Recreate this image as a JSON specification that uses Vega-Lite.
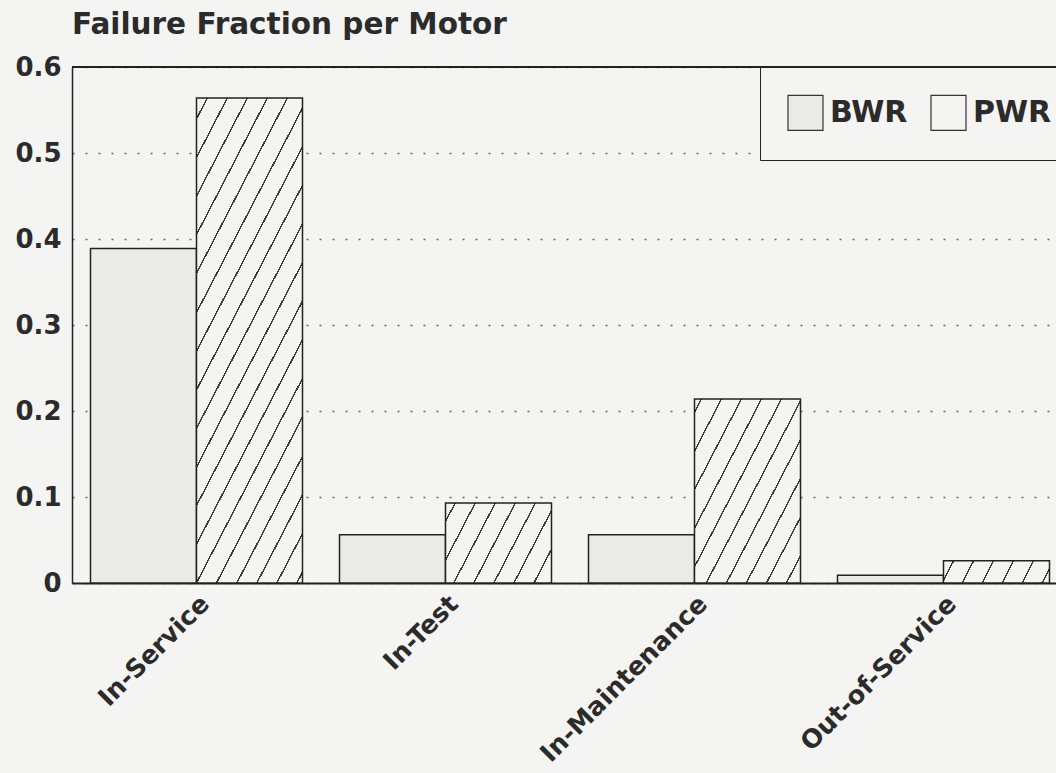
{
  "$schema": "https://vega.github.io/schema/vega-lite/v6.json",
  "width": 984,
  "height": 516,
  "autosize": {"type": "none"},
  "padding": {"left": 72, "top": 67, "right": 0, "bottom": 190},
  "background": "#f4f4f2",
  "title": {
    "text": "Failure Fraction per Motor",
    "anchor": "start",
    "frame": "group",
    "font": "DejaVu Sans",
    "fontSize": 29.5,
    "fontWeight": "bold",
    "color": "#2b2b2b",
    "baseline": "alphabetic",
    "offset": -9
  },
  "config": {
    "view": {"stroke": null},
    "axis": {"labelFont": "DejaVu Sans", "labelFontWeight": "bold", "labelColor": "#2b2b2b"}
  },
  "data": {
    "values": [
      {"state": "In-Service", "type": "BWR", "fraction": 0.389},
      {"state": "In-Service", "type": "PWR", "fraction": 0.564},
      {"state": "In-Test", "type": "BWR", "fraction": 0.056},
      {"state": "In-Test", "type": "PWR", "fraction": 0.093},
      {"state": "In-Maintenance", "type": "BWR", "fraction": 0.056},
      {"state": "In-Maintenance", "type": "PWR", "fraction": 0.214},
      {"state": "Out-of-Service", "type": "BWR", "fraction": 0.009},
      {"state": "Out-of-Service", "type": "PWR", "fraction": 0.026}
    ]
  },
  "layer": [
    {
      "mark": {"type": "bar", "stroke": "#222", "strokeWidth": 1.5},
      "encoding": {
        "x": {
          "field": "state",
          "type": "nominal",
          "sort": ["In-Service", "In-Test", "In-Maintenance", "Out-of-Service"],
          "scale": {"paddingInner": 0.1486, "paddingOuter": 0.0502, "align": 0.74},
          "axis": {
            "title": null,
            "labelAngle": -45,
            "labelFontSize": 25.5,
            "labelLimit": 0,
            "ticks": false,
            "domain": true,
            "domainColor": "#222",
            "domainWidth": 2,
            "labelPadding": 8
          }
        },
        "xOffset": {
          "field": "type",
          "type": "nominal",
          "sort": ["BWR", "PWR"],
          "scale": {"paddingInner": 0, "paddingOuter": 0}
        },
        "y": {
          "field": "fraction",
          "type": "quantitative",
          "scale": {"domain": [0, 0.6], "nice": false},
          "axis": {
            "title": null,
            "values": [0, 0.1, 0.2, 0.3, 0.4, 0.5, 0.6],
            "format": "~g",
            "labelFontSize": 26,
            "ticks": false,
            "labelPadding": 11,
            "domain": true,
            "domainColor": "#222",
            "domainWidth": 1.5,
            "grid": true,
            "gridColor": "#666",
            "gridDash": [2, 11],
            "gridWidth": 1.5
          }
        },
        "fill": {
          "field": "type",
          "type": "nominal",
          "sort": ["BWR", "PWR"],
          "scale": {"domain": ["BWR", "PWR"], "range": ["#eaeae8", "#f4f4f2"]},
          "condition": [
            {
              "test": "datum.state === 'In-Service' && datum.type === 'PWR'",
              "value": {
                "gradient": "linear", "x1": 0, "y1": 0, "x2": 0.509, "y2": 1.207,
                "stops": [
                  {"offset": 0.028, "color": "#f4f4f2"}, {"offset": 0.028, "color": "#3a3a3a"}, {"offset": 0.0325, "color": "#3a3a3a"}, {"offset": 0.0325, "color": "#f4f4f2"},
                  {"offset": 0.084, "color": "#f4f4f2"}, {"offset": 0.084, "color": "#3a3a3a"}, {"offset": 0.0885, "color": "#3a3a3a"}, {"offset": 0.0885, "color": "#f4f4f2"},
                  {"offset": 0.140, "color": "#f4f4f2"}, {"offset": 0.140, "color": "#3a3a3a"}, {"offset": 0.1445, "color": "#3a3a3a"}, {"offset": 0.1445, "color": "#f4f4f2"},
                  {"offset": 0.196, "color": "#f4f4f2"}, {"offset": 0.196, "color": "#3a3a3a"}, {"offset": 0.2005, "color": "#3a3a3a"}, {"offset": 0.2005, "color": "#f4f4f2"},
                  {"offset": 0.252, "color": "#f4f4f2"}, {"offset": 0.252, "color": "#3a3a3a"}, {"offset": 0.2565, "color": "#3a3a3a"}, {"offset": 0.2565, "color": "#f4f4f2"},
                  {"offset": 0.309, "color": "#f4f4f2"}, {"offset": 0.309, "color": "#3a3a3a"}, {"offset": 0.3135, "color": "#3a3a3a"}, {"offset": 0.3135, "color": "#f4f4f2"},
                  {"offset": 0.365, "color": "#f4f4f2"}, {"offset": 0.365, "color": "#3a3a3a"}, {"offset": 0.3695, "color": "#3a3a3a"}, {"offset": 0.3695, "color": "#f4f4f2"},
                  {"offset": 0.421, "color": "#f4f4f2"}, {"offset": 0.421, "color": "#3a3a3a"}, {"offset": 0.4255, "color": "#3a3a3a"}, {"offset": 0.4255, "color": "#f4f4f2"},
                  {"offset": 0.477, "color": "#f4f4f2"}, {"offset": 0.477, "color": "#3a3a3a"}, {"offset": 0.4815, "color": "#3a3a3a"}, {"offset": 0.4815, "color": "#f4f4f2"},
                  {"offset": 0.533, "color": "#f4f4f2"}, {"offset": 0.533, "color": "#3a3a3a"}, {"offset": 0.5375, "color": "#3a3a3a"}, {"offset": 0.5375, "color": "#f4f4f2"},
                  {"offset": 0.589, "color": "#f4f4f2"}, {"offset": 0.589, "color": "#3a3a3a"}, {"offset": 0.5935, "color": "#3a3a3a"}, {"offset": 0.5935, "color": "#f4f4f2"},
                  {"offset": 0.645, "color": "#f4f4f2"}, {"offset": 0.645, "color": "#3a3a3a"}, {"offset": 0.6495, "color": "#3a3a3a"}, {"offset": 0.6495, "color": "#f4f4f2"},
                  {"offset": 0.701, "color": "#f4f4f2"}, {"offset": 0.701, "color": "#3a3a3a"}, {"offset": 0.7055, "color": "#3a3a3a"}, {"offset": 0.7055, "color": "#f4f4f2"},
                  {"offset": 0.757, "color": "#f4f4f2"}, {"offset": 0.757, "color": "#3a3a3a"}, {"offset": 0.7615, "color": "#3a3a3a"}, {"offset": 0.7615, "color": "#f4f4f2"},
                  {"offset": 0.814, "color": "#f4f4f2"}, {"offset": 0.814, "color": "#3a3a3a"}, {"offset": 0.8185, "color": "#3a3a3a"}, {"offset": 0.8185, "color": "#f4f4f2"},
                  {"offset": 0.870, "color": "#f4f4f2"}, {"offset": 0.870, "color": "#3a3a3a"}, {"offset": 0.8745, "color": "#3a3a3a"}, {"offset": 0.8745, "color": "#f4f4f2"},
                  {"offset": 0.926, "color": "#f4f4f2"}, {"offset": 0.926, "color": "#3a3a3a"}, {"offset": 0.9305, "color": "#3a3a3a"}, {"offset": 0.9305, "color": "#f4f4f2"},
                  {"offset": 0.982, "color": "#f4f4f2"}, {"offset": 0.982, "color": "#3a3a3a"}, {"offset": 0.9865, "color": "#3a3a3a"}, {"offset": 0.9865, "color": "#f4f4f2"}
                ]
              }
            },
            {
              "test": "datum.state === 'In-Test' && datum.type === 'PWR'",
              "value": {
                "gradient": "linear", "x1": 0, "y1": 0, "x2": 1.206, "y2": 0.472,
                "stops": [
                  {"offset": 0.060, "color": "#f4f4f2"}, {"offset": 0.060, "color": "#3a3a3a"}, {"offset": 0.0707, "color": "#3a3a3a"}, {"offset": 0.0707, "color": "#f4f4f2"},
                  {"offset": 0.196, "color": "#f4f4f2"}, {"offset": 0.196, "color": "#3a3a3a"}, {"offset": 0.2067, "color": "#3a3a3a"}, {"offset": 0.2067, "color": "#f4f4f2"},
                  {"offset": 0.332, "color": "#f4f4f2"}, {"offset": 0.332, "color": "#3a3a3a"}, {"offset": 0.3427, "color": "#3a3a3a"}, {"offset": 0.3427, "color": "#f4f4f2"},
                  {"offset": 0.468, "color": "#f4f4f2"}, {"offset": 0.468, "color": "#3a3a3a"}, {"offset": 0.4787, "color": "#3a3a3a"}, {"offset": 0.4787, "color": "#f4f4f2"},
                  {"offset": 0.604, "color": "#f4f4f2"}, {"offset": 0.604, "color": "#3a3a3a"}, {"offset": 0.6147, "color": "#3a3a3a"}, {"offset": 0.6147, "color": "#f4f4f2"},
                  {"offset": 0.740, "color": "#f4f4f2"}, {"offset": 0.740, "color": "#3a3a3a"}, {"offset": 0.7507, "color": "#3a3a3a"}, {"offset": 0.7507, "color": "#f4f4f2"},
                  {"offset": 0.876, "color": "#f4f4f2"}, {"offset": 0.876, "color": "#3a3a3a"}, {"offset": 0.8867, "color": "#3a3a3a"}, {"offset": 0.8867, "color": "#f4f4f2"}
                ]
              }
            },
            {
              "test": "datum.state === 'In-Maintenance' && datum.type === 'PWR'",
              "value": {
                "gradient": "linear", "x1": 0, "y1": 0, "x2": 1.050, "y2": 0.944,
                "stops": [
                  {"offset": 0.030, "color": "#f4f4f2"}, {"offset": 0.030, "color": "#3a3a3a"}, {"offset": 0.0378, "color": "#3a3a3a"}, {"offset": 0.0378, "color": "#f4f4f2"},
                  {"offset": 0.130, "color": "#f4f4f2"}, {"offset": 0.130, "color": "#3a3a3a"}, {"offset": 0.1378, "color": "#3a3a3a"}, {"offset": 0.1378, "color": "#f4f4f2"},
                  {"offset": 0.229, "color": "#f4f4f2"}, {"offset": 0.229, "color": "#3a3a3a"}, {"offset": 0.2368, "color": "#3a3a3a"}, {"offset": 0.2368, "color": "#f4f4f2"},
                  {"offset": 0.329, "color": "#f4f4f2"}, {"offset": 0.329, "color": "#3a3a3a"}, {"offset": 0.3368, "color": "#3a3a3a"}, {"offset": 0.3368, "color": "#f4f4f2"},
                  {"offset": 0.428, "color": "#f4f4f2"}, {"offset": 0.428, "color": "#3a3a3a"}, {"offset": 0.4358, "color": "#3a3a3a"}, {"offset": 0.4358, "color": "#f4f4f2"},
                  {"offset": 0.528, "color": "#f4f4f2"}, {"offset": 0.528, "color": "#3a3a3a"}, {"offset": 0.5358, "color": "#3a3a3a"}, {"offset": 0.5358, "color": "#f4f4f2"},
                  {"offset": 0.628, "color": "#f4f4f2"}, {"offset": 0.628, "color": "#3a3a3a"}, {"offset": 0.6358, "color": "#3a3a3a"}, {"offset": 0.6358, "color": "#f4f4f2"},
                  {"offset": 0.727, "color": "#f4f4f2"}, {"offset": 0.727, "color": "#3a3a3a"}, {"offset": 0.7348, "color": "#3a3a3a"}, {"offset": 0.7348, "color": "#f4f4f2"},
                  {"offset": 0.827, "color": "#f4f4f2"}, {"offset": 0.827, "color": "#3a3a3a"}, {"offset": 0.8348, "color": "#3a3a3a"}, {"offset": 0.8348, "color": "#f4f4f2"},
                  {"offset": 0.926, "color": "#f4f4f2"}, {"offset": 0.926, "color": "#3a3a3a"}, {"offset": 0.9338, "color": "#3a3a3a"}, {"offset": 0.9338, "color": "#f4f4f2"}
                ]
              }
            },
            {
              "test": "datum.state === 'Out-of-Service' && datum.type === 'PWR'",
              "value": {
                "gradient": "linear", "x1": 0, "y1": 0, "x2": 1.096, "y2": 0.120,
                "stops": [
                  {"offset": 0.080, "color": "#f4f4f2"}, {"offset": 0.080, "color": "#3a3a3a"}, {"offset": 0.0934, "color": "#3a3a3a"}, {"offset": 0.0934, "color": "#f4f4f2"},
                  {"offset": 0.250, "color": "#f4f4f2"}, {"offset": 0.250, "color": "#3a3a3a"}, {"offset": 0.2634, "color": "#3a3a3a"}, {"offset": 0.2634, "color": "#f4f4f2"},
                  {"offset": 0.420, "color": "#f4f4f2"}, {"offset": 0.420, "color": "#3a3a3a"}, {"offset": 0.4334, "color": "#3a3a3a"}, {"offset": 0.4334, "color": "#f4f4f2"},
                  {"offset": 0.590, "color": "#f4f4f2"}, {"offset": 0.590, "color": "#3a3a3a"}, {"offset": 0.6034, "color": "#3a3a3a"}, {"offset": 0.6034, "color": "#f4f4f2"},
                  {"offset": 0.760, "color": "#f4f4f2"}, {"offset": 0.760, "color": "#3a3a3a"}, {"offset": 0.7734, "color": "#3a3a3a"}, {"offset": 0.7734, "color": "#f4f4f2"},
                  {"offset": 0.930, "color": "#f4f4f2"}, {"offset": 0.930, "color": "#3a3a3a"}, {"offset": 0.9434, "color": "#3a3a3a"}, {"offset": 0.9434, "color": "#f4f4f2"}
                ]
              }
            }
          ],
          "legend": {
            "orient": "none",
            "legendX": 688,
            "legendY": 0,
            "direction": "horizontal",
            "title": null,
            "padding": 27,
            "strokeColor": "#222",
            "fillColor": "#f4f4f2",
            "symbolType": "square",
            "symbolSize": 1225,
            "symbolStrokeColor": "#333",
            "symbolStrokeWidth": 1.2,
            "labelFont": "DejaVu Sans",
            "labelFontWeight": "bold",
            "labelFontSize": 30,
            "labelColor": "#2b2b2b",
            "labelOffset": 6,
            "columnPadding": 20,
            "encode": {
              "symbols": {
                "update": {
                  "fill": [
                    {
                      "test": "datum.value === 'PWR'",
                      "value": {
                        "gradient": "linear", "x1": 0, "y1": 0, "x2": 1.198, "y2": 0.621,
                        "stops": [
                          {"offset": 0.485, "color": "#f4f4f2"}, {"offset": 0.485, "color": "#3a3a3a"}, {"offset": 0.515, "color": "#3a3a3a"}, {"offset": 0.515, "color": "#f4f4f2"}
                        ]
                      }
                    },
                    {"value": "#eaeae8"}
                  ],
                  "stroke": {"value": "#333"}
                }
              }
            }
          }
        }
      }
    },
    {
      "mark": {"type": "rule", "color": "#222", "strokeWidth": 1.5},
      "encoding": {"y": {"datum": 0.6}}
    }
  ]
}
